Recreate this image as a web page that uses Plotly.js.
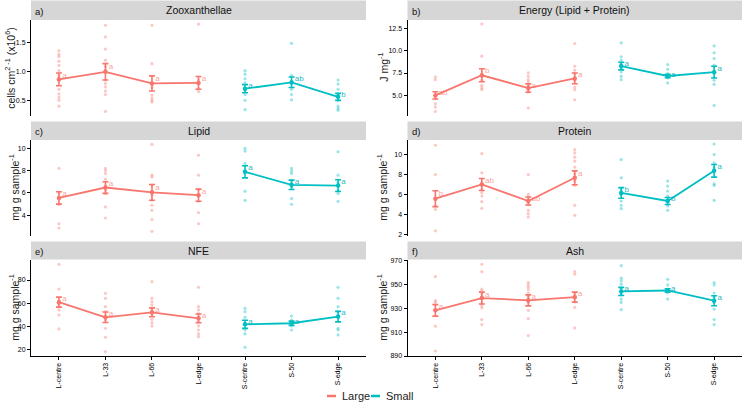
<!DOCTYPE html>
<html>
<head>
<meta charset="utf-8">
<script src="https://cdn.plot.ly/plotly-3.0.1.min.js"></script>
<style>html,body{margin:0;padding:0;background:#fff;}#chart{width:745px;height:410px;}</style>
</head>
<body>
<div id="chart"></div>
<script>
// ---------- DATA ----------
const categories = ["L-centre","L-33","L-66","L-edge","S-centre","S-50","S-edge"];
const seriesNames = ["Large","Small"];
const panelTitles = ["Zooxanthellae","Energy (Lipid + Protein)","Lipid","Protein","NFE","Ash"];
const panelLetters = ["a)","b)","c)","d)","e)","f)"];
const yTitles = ["cells cm<sup>2 -1</sup> (x10<sup>6</sup>)","J mg<sup>-1</sup>","mg g sample<sup>-1</sup>","mg g sample<sup>-1</sup>","mg g sample<sup>-1</sup>","mg g sample<sup>-1</sup>"];

// a) Zooxanthellae
const zooMean = [0.87, 1.00, 0.80, 0.81, 0.71, 0.82, 0.57];
const zooSE = [0.11, 0.14, 0.13, 0.11, 0.07, 0.09, 0.06];
const zooLetters = ["a","a","a","a","a","ab","b"];
const zooPoints = [
  [1.36,1.30,1.26,1.18,1.11,1.02,0.93,0.70,0.62,0.56,0.51,0.41],
  [1.80,1.60,1.39,1.20,1.09,1.03,0.86,0.80,0.74,0.67,0.61,0.32],
  [1.80,1.14,0.81,0.73,0.60,0.55,0.51,0.48],
  [1.82,0.86,0.71,0.66],
  [1.02,0.96,0.88,0.81,0.68,0.61,0.51,0.35],
  [1.49,0.94,0.80,0.70,0.61,0.52],
  [0.86,0.79,0.70,0.62,0.51,0.41,0.37,0.34]
];
// b) Energy
const energyMean = [5.00, 7.25, 5.82, 6.90, 8.28, 7.17, 7.60];
const energySE = [0.40, 0.72, 0.47, 0.60, 0.43, 0.20, 0.65];
const energyLetters = ["ab","b","a","a","a","a","a"];
const energyPoints = [
  [7.06,6.76,5.00,4.63,4.06,3.69,3.20],
  [12.98,9.38,7.06,6.69,6.12,5.86,5.64],
  [7.51,7.13,6.76,6.50,6.01,5.64,5.37,3.58],
  [10.80,8.26,7.81,7.43,6.69,5.94,5.64,4.51],
  [10.88,9.31,8.93,8.56,8.00,7.62,7.13,6.76],
  [8.45,7.92,7.43,6.95,6.39],
  [10.54,9.76,9.12,8.37,7.62,6.69,6.24,3.88]
];
// c) Lipid
const lipidMean = [5.55, 6.48, 6.05, 5.80, 7.88, 6.72, 6.65];
const lipidSE = [0.55, 0.52, 0.70, 0.54, 0.54, 0.42, 0.52];
const lipidLetters = ["a","a","a","a","a","a","a"];
const lipidPoints = [
  [8.18,6.00,5.50,4.96,3.25,2.87],
  [8.18,7.97,7.73,7.22,6.60,6.24,5.94,4.75,3.76],
  [10.33,7.58,7.43,6.69,5.79,5.34,4.90,4.45,3.61,2.57],
  [9.37,7.58,6.30,5.79,5.25,4.24,3.25],
  [9.97,9.73,8.63,7.88,6.15,5.34],
  [8.18,7.94,7.73,7.13,6.54,5.49,4.99],
  [9.67,7.58,6.93,6.24,5.94,5.25]
];
// d) Protein
const proteinMean = [5.60, 7.03, 5.37, 7.70, 6.18, 5.37, 8.40];
const proteinSE = [0.80, 0.60, 0.40, 0.70, 0.53, 0.35, 0.63];
const proteinLetters = ["b","ab","ab","a","b","b","a"];
const proteinPoints = [
  [10.97,8.03,4.87,4.53,2.37],
  [10.13,8.20,7.20,6.53,6.20,5.87,5.30,4.63],
  [8.03,6.03,5.77,5.03,4.43,4.10,3.77],
  [10.53,10.20,9.77,9.37,8.77,8.10,7.37,6.93,4.93,3.93],
  [9.53,7.70,6.53,6.03,5.37,4.93,4.60],
  [7.37,6.87,6.37,5.87,5.37,4.87,4.43],
  [11.10,10.03,9.20,8.70,7.10,6.93,5.43]
];
// e) NFE
const nfeMean = [61.0, 48.0, 52.3, 47.1, 42.0, 42.9, 48.6];
const nfeSE = [4.3, 4.5, 3.8, 3.8, 3.5, 1.8, 4.5];
const nfeLetters = ["a","a","a","a","a","a","a"];
const nfePoints = [
  [93.4,72.3,58.6,54.3,50.0,38.0],
  [68.6,64.3,57.1,52.9,45.7,38.6,30.9,18.6],
  [78.6,64.3,61.4,58.6,55.7,50.0,46.3,43.4,40.6],
  [73.7,57.1,54.3,51.4,44.3,40.6,37.1,33.7,31.4],
  [55.7,52.9,48.0,42.9,37.1,33.7,22.3],
  [49.1,45.7,42.9,40.6,37.1],
  [73.7,64.3,57.1,52.9,48.0,38.6,37.1,32.9]
];
// f) Ash
const ashMean = [928.3, 938.6, 936.7, 939.4, 944.2, 945.0, 936.4];
const ashSE = [4.8, 5.0, 4.6, 4.2, 3.4, 1.4, 4.2];
const ashLetters = ["a","a","a","a","a","a","a"];
const ashPoints = [
  [956.7,936.4,935.0,915.0,894.2],
  [967.0,960.8,946.1,944.2,942.2,940.0,934.4,932.2,930.3,920.6,916.4],
  [951.7,949.7,947.8,945.6,942.8,940.0,935.0,928.3,921.4,907.2],
  [960.8,958.6,942.8,940.6,935.3,930.8,913.6],
  [965.8,955.3,953.0,950.3,946.9,941.4,937.8,935.0,928.9],
  [954.4,949.7,946.1,943.3,937.8],
  [951.7,949.7,942.8,939.4,935.0,929.4,920.6,916.4]
];

const yTickVals = [[0.5,1.0,1.5],[5,7.5,10,12.5],[4,6,8,10],[2,4,6,8,10],[20,40,60,80],[890,910,930,950,970]];
const yTickFormats = [".1f",".1f","d","d","d","d"];
const yRanges = [[0.25,1.89],[2.75,13.43],[2.2,10.72],[1.9,11.5],[14.8,97.6],[890,971]];

// ---------- BUILD ----------
const panels = [
  {mean:zooMean, se:zooSE, letters:zooLetters, pts:zooPoints},
  {mean:energyMean, se:energySE, letters:energyLetters, pts:energyPoints},
  {mean:lipidMean, se:lipidSE, letters:lipidLetters, pts:lipidPoints},
  {mean:proteinMean, se:proteinSE, letters:proteinLetters, pts:proteinPoints},
  {mean:nfeMean, se:nfeSE, letters:nfeLetters, pts:nfePoints},
  {mean:ashMean, se:ashSE, letters:ashLetters, pts:ashPoints}
];

const W = 745, H = 410;
const colors = ["#F8766D","#00BFC4"];
const ptColors = ["rgba(248,118,109,0.4)","rgba(0,191,196,0.4)"];
const lblColors = ["rgba(248,118,109,0.7)","rgba(0,175,185,0.9)"];
const cols = [[31,366],[407.5,742]];
const rows = [[20,115.5],[140,235.5],[259.5,356]];
const strips = [[0.5,20],[121.5,140],[241.5,259.5]];
const yTitleX = [10,383,14,382,14,382];
const groups = [[0,1,2,3],[4,5,6]];
const FONT = "Liberation Sans, Arial, sans-serif";

const px = v => v / W;
const py = v => 1 - v / H;

const data = [];
const layout = {
  width: W, height: H,
  margin: {l:0, r:0, t:0, b:0},
  paper_bgcolor: "#fff", plot_bgcolor: "rgba(0,0,0,0)",
  font: {family: FONT, color: "#000"},
  showlegend: false,
  shapes: [], annotations: []
};

panels.forEach((p, i) => {
  const r = Math.floor(i / 2), c = i % 2;
  const n = i + 1;
  const xa = "x" + (n === 1 ? "" : n), ya = "y" + (n === 1 ? "" : n);
  const xk = "xaxis" + (n === 1 ? "" : n), yk = "yaxis" + (n === 1 ? "" : n);
  const bottom = r === 2;
  layout[xk] = {
    domain: [px(cols[c][0]), px(cols[c][1])], anchor: ya,
    range: [0.4, 7.6], showgrid: false, zeroline: false,
    tickmode: "array", tickvals: categories.map((_, k) => k + 1), ticktext: categories,
    showline: bottom, linecolor: "#000", linewidth: 1,
    ticks: bottom ? "outside" : "", ticklen: 3, tickcolor: "#000",
    showticklabels: bottom, tickangle: -90,
    tickfont: {size: 7, family: FONT, color: "#000"}
  };
  layout[yk] = {
    domain: [py(rows[r][1]), py(rows[r][0])], anchor: xa,
    range: yRanges[i], showgrid: false, zeroline: false,
    tickmode: "array", tickvals: yTickVals[i], tickformat: yTickFormats[i],
    showline: true, linecolor: "#000", linewidth: 1,
    ticks: "outside", ticklen: 3, tickcolor: "#000",
    tickfont: {size: 7, family: FONT, color: "#000"}
  };
  // strip
  layout.shapes.push({type: "rect", xref: "paper", yref: "paper",
    x0: px(cols[c][0]), x1: px(cols[c][1]), y0: py(strips[r][1]), y1: py(strips[r][0]),
    fillcolor: "#D6D6D6", line: {width: 0}, layer: "below"});
  layout.annotations.push({xref: "paper", yref: "paper", x: px((cols[c][0] + cols[c][1]) / 2),
    y: py((strips[r][0] + strips[r][1]) / 2), text: panelTitles[i], showarrow: false,
    xanchor: "center", yanchor: "middle", font: {size: 10.5, family: FONT, color: "#111"}});
  layout.annotations.push({xref: "paper", yref: "paper", x: px(cols[c][0] + 2),
    y: py((strips[r][0] + strips[r][1]) / 2 + 1), text: panelLetters[i], showarrow: false,
    xanchor: "left", yanchor: "middle", font: {size: 9.5, family: FONT, color: "#111"}});
  layout.annotations.push({xref: "paper", yref: "paper", x: px(yTitleX[i]),
    y: py((rows[r][0] + rows[r][1]) / 2), text: yTitles[i], showarrow: false, textangle: -90,
    xanchor: "center", yanchor: "middle", font: {size: 10.5, family: FONT, color: "#1a1a1a"}});

  groups.forEach((g, s) => {
    const xs = [], ys = [];
    g.forEach(k => p.pts[k].forEach(v => { xs.push(k + 1); ys.push(v); }));
    data.push({type: "scatter", mode: "markers", x: xs, y: ys, xaxis: xa, yaxis: ya,
      marker: {size: 3.2, color: ptColors[s]}, showlegend: false, hoverinfo: "skip"});
    data.push({type: "scatter", mode: "lines+markers", name: seriesNames[s],
      showlegend: false,
      x: g.map(k => k + 1), y: g.map(k => p.mean[k]), xaxis: xa, yaxis: ya,
      line: {color: colors[s], width: 1.8}, marker: {color: colors[s], size: 4.5},
      error_y: {type: "data", array: g.map(k => p.se[k]), visible: true,
        color: colors[s], thickness: 1.6, width: 3}});
    data.push({type: "scatter", mode: "text", x: g.map(k => k + 1.07),
      y: g.map(k => p.mean[k] + p.se[k] * 0.6), text: g.map(k => p.letters[k]),
      textposition: "middle right", xaxis: xa, yaxis: ya, showlegend: false, hoverinfo: "skip",
      textfont: {size: 8, family: FONT, color: lblColors[s]}});
  });
});

// manual legend (short thick keys as in the reference)
const legendKeys = [[327, 336, 340], [371, 380, 384]];
const legendY = 396;
seriesNames.forEach((nm, s) => {
  layout.shapes.push({type: "line", xref: "paper", yref: "paper",
    x0: px(legendKeys[s][0]), x1: px(legendKeys[s][1]), y0: py(legendY), y1: py(legendY),
    line: {color: colors[s], width: 2.5}});
  layout.annotations.push({xref: "paper", yref: "paper", x: px(legendKeys[s][2]), y: py(legendY),
    text: nm, showarrow: false, xanchor: "left", yanchor: "middle",
    font: {size: 11, family: FONT, color: "#222"}});
});

Plotly.newPlot("chart", data, layout, {staticPlot: true, displayModeBar: false});
</script>
</body>
</html>
